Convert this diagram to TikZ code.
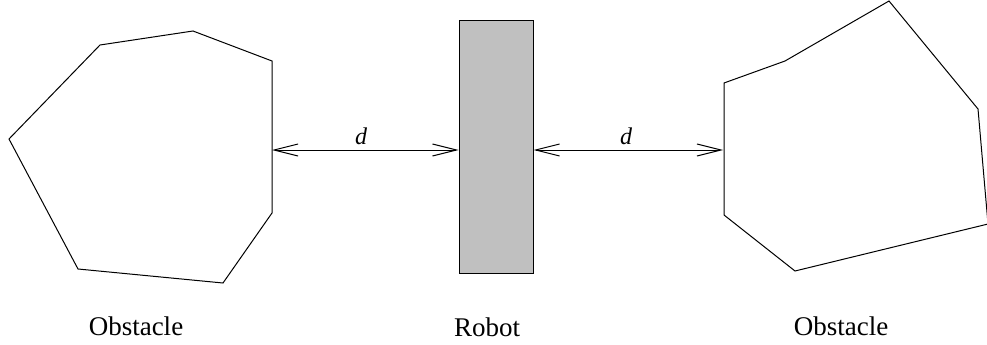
\documentclass[tikz,border=0pt]{standalone}
\usepackage{fontspec}
\setmainfont{Liberation Serif}
\usetikzlibrary{arrows.meta}
\definecolor{robotgray}{RGB}{192,192,192}
\begin{document}
\begin{tikzpicture}[x=1pt,y=-1pt,
  obst/.style={draw=black,line width=1pt,line join=miter},
  dimarrow/.style={draw=black,line width=1pt,{Straight Barb[length=24pt,width=12pt,line width=1pt]}-{Straight Barb[length=24pt,width=12pt,line width=1pt]}},
  lbl/.style={font=\fontsize{27}{31}\selectfont,inner sep=0pt,anchor=base},
  dlbl/.style={font=\fontsize{24}{28}\selectfont\itshape,inner sep=0pt}]
\useasboundingbox (0,0) rectangle (987,345);
\begin{scope}
\clip (0,0) rectangle (987,345);
% left obstacle
\draw[obst] (9,139) -- (100,45) -- (193,31) -- (272,61) -- (272,213) -- (223,283) -- (78,269) -- cycle;
% right obstacle
\draw[obst] (724,83) -- (785,61) -- (889,1) -- (978,109) -- (988,224) -- (795,271) -- (724,215) -- cycle;
\end{scope}
\coordinate (lo) at (272,150);
\coordinate (ro) at (723,150);
% robot
\node[draw=black,fill=robotgray,line width=1pt,minimum width=74pt,minimum height=252pt,inner sep=0pt] (robot) at (496,147) {};
\draw[dimarrow] (lo) -- (robot.west |- lo);
\draw[dimarrow] (robot.east |- ro) -- (ro);
\node[dlbl] (d1) at (361,136) {d};
\node[dlbl] (d2) at (626,136) {d};
\node[lbl] (o1) at (136,335) {Obstacle};
\node[lbl] (r) at (487,336) {Robot};
\node[lbl] (o2) at (841,335) {Obstacle};
\end{tikzpicture}
\end{document}
